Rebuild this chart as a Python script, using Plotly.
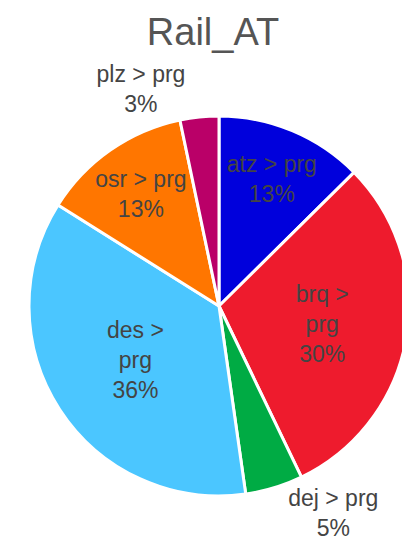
import plotly.graph_objects as go

labels = ["atz > prg", "brq > prg", "dej > prg", "des > prg", "osr > prg", "plz > prg"]
display_labels = ["atz > prg", "brq ><br>prg", "dej > prg", "des ><br>prg", "osr > prg", "plz > prg"]
values = [12.6, 30.3, 4.9, 36.2, 12.8, 3.3]
colors = ["#0000DC", "#EE1B2D", "#00AB44", "#4BC6FF", "#FF7600", "#BA0068"]
positions = ["inside", "inside", "outside", "inside", "inside", "outside"]

FONT = "Liberation Sans, Arial, sans-serif"

fig = go.Figure(go.Pie(
    labels=labels,
    values=values,
    text=display_labels,
    texttemplate="%{text}<br>%{percent:.0%}",
    textposition=positions,
    insidetextorientation="horizontal",
    sort=False,
    direction="clockwise",
    rotation=0,
    marker=dict(colors=colors, line=dict(color="white", width=3)),
    textfont=dict(family=FONT, size=23, color="#444444"),
    outsidetextfont=dict(family=FONT, size=23, color="#444444"),
    showlegend=False,
    hoverinfo="label+percent",
))

fig.update_layout(
    width=410, height=543,
    margin=dict(l=21, r=9, t=108, b=55),
    paper_bgcolor="white",
    uniformtext=dict(minsize=23, mode="show"),
    title=dict(text="Rail_AT", x=0.5, xanchor="center", y=1 - 24/543, yanchor="middle",
               yref="container",
               font=dict(family=FONT, size=38, color="#555555")),
)

fig.write_html("out.html")
